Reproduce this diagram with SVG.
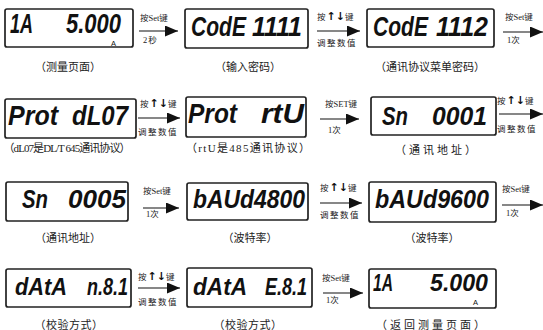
<svg xmlns="http://www.w3.org/2000/svg" width="543" height="330" viewBox="0 0 543 330">
  <style>
    .lcd { fill: #fff; stroke: #222; stroke-width: 1.7; }
    .seg { font-family: "Liberation Sans", Arial, sans-serif; font-weight: bold; font-style: italic; font-size: 20px; fill: #111; }
    .unit { font-family: "Liberation Sans", sans-serif; font-size: 7.5px; fill: #111; }
    .cap { font-family: "Liberation Serif", "Noto Sans CJK SC", serif; font-size: 11px; fill: #222; text-anchor: middle; }
    .lbl { font-family: "Liberation Serif", "Noto Sans CJK SC", serif; font-size: 8.5px; fill: #222; }
    .ar { font-family: "DejaVu Sans", sans-serif; font-weight: bold; font-size: 11px; fill: #111; }
    .wire { stroke: #111; stroke-width: 1.1; fill: none; marker-end: url(#head); }
  </style>
  <defs>
    <marker id="head" markerUnits="userSpaceOnUse" markerWidth="13" markerHeight="11" refX="13" refY="5.5" orient="auto">
      <path d="M0,0 L13,5.5 L0,11 z" fill="#111"/>
    </marker>
  </defs>

  <rect width="543" height="330" fill="#fff"/>

  <!-- Row 1 -->
  <g id="measure-page">
    <rect class="lcd" x="5" y="9" width="128" height="38" rx="2"/>
    <text class="seg" transform="translate(10,32.5) scale(1,1.35)" textLength="23" lengthAdjust="spacingAndGlyphs">1A</text>
    <text class="seg" transform="translate(66,32.5) scale(1,1.35)" textLength="55" lengthAdjust="spacingAndGlyphs">5.000</text>
    <text class="unit" x="111" y="45.5">A</text>
    <text class="cap" x="68" y="71">（测量页面）</text>
  </g>
  <g id="code-entry">
    <rect class="lcd" x="185" y="9" width="123" height="39" rx="2"/>
    <text class="seg" transform="translate(191,36) scale(1,1.35)" textLength="55" lengthAdjust="spacingAndGlyphs">CodE</text>
    <text class="seg" transform="translate(252,36) scale(1,1.35)" textLength="50" lengthAdjust="spacingAndGlyphs">1111</text>
    <text class="cap" x="248" y="71">（输入密码）</text>
  </g>
  <g id="code-protocol">
    <rect class="lcd" x="367" y="9" width="127" height="38" rx="2"/>
    <text class="seg" transform="translate(373,36) scale(1,1.35)" textLength="55" lengthAdjust="spacingAndGlyphs">CodE</text>
    <text class="seg" transform="translate(436,36) scale(1,1.35)" textLength="52" lengthAdjust="spacingAndGlyphs">1112</text>
    <text class="cap" x="430" y="71">（通讯协议菜单密码）</text>
  </g>

  <!-- Row 2 -->
  <g id="protocol-dl07">
    <rect class="lcd" x="5" y="99" width="131" height="39" rx="2"/>
    <text class="seg" transform="translate(8,125) scale(1,1.35)" textLength="50" lengthAdjust="spacingAndGlyphs">Prot</text>
    <text class="seg" transform="translate(72,125) scale(1,1.35)" textLength="56" lengthAdjust="spacingAndGlyphs">dL07</text>
    <text class="cap" x="67" y="152" font-size="10" textLength="127">（dL07是DL/T 645通讯协议）</text>
  </g>
  <g id="protocol-rtu">
    <rect class="lcd" x="186" y="97" width="120" height="40" rx="2"/>
    <text class="seg" transform="translate(188,123) scale(1,1.35)" textLength="49" lengthAdjust="spacingAndGlyphs">Prot</text>
    <text class="seg" transform="translate(261,123) scale(1,1.35)" textLength="43" lengthAdjust="spacingAndGlyphs">rtU</text>
    <text class="cap" x="248" y="152" textLength="124">（rtU是485通讯协议）</text>
  </g>
  <g id="address-0001">
    <rect class="lcd" x="371" y="97" width="125" height="38" rx="2"/>
    <text class="seg" transform="translate(382,125) scale(1,1.25)" textLength="26" lengthAdjust="spacingAndGlyphs">Sn</text>
    <text class="seg" transform="translate(432,125) scale(1,1.25)" textLength="55" lengthAdjust="spacingAndGlyphs">0001</text>
    <text class="cap" x="437" y="154" letter-spacing="3">（通讯地址）</text>
  </g>

  <!-- Row 3 -->
  <g id="address-0005">
    <rect class="lcd" x="6" y="182" width="122" height="39" rx="2"/>
    <text class="seg" transform="translate(22,208) scale(1,1.25)" textLength="26" lengthAdjust="spacingAndGlyphs">Sn</text>
    <text class="seg" transform="translate(68,208) scale(1,1.25)" textLength="58" lengthAdjust="spacingAndGlyphs">0005</text>
    <text class="cap" x="68" y="242" font-size="10">（通讯地址）</text>
  </g>
  <g id="baud-4800">
    <rect class="lcd" x="187" y="183" width="121" height="37" rx="2"/>
    <text class="seg" transform="translate(193,208) scale(1,1.25)" textLength="112" lengthAdjust="spacingAndGlyphs">bAUd4800</text>
    <text class="cap" x="250" y="242" font-size="10.5">（波特率）</text>
  </g>
  <g id="baud-9600">
    <rect class="lcd" x="369" y="182" width="127" height="40" rx="2"/>
    <text class="seg" transform="translate(375,208) scale(1,1.3)" textLength="114" lengthAdjust="spacingAndGlyphs">bAUd9600</text>
    <text class="cap" x="432" y="242">（波特率）</text>
  </g>

  <!-- Row 4 -->
  <g id="parity-n81">
    <rect class="lcd" x="6" y="269" width="125" height="38" rx="2"/>
    <text class="seg" transform="translate(15,295) scale(1,1.2)" textLength="52" lengthAdjust="spacingAndGlyphs">dAtA</text>
    <text class="seg" transform="translate(87,295) scale(1,1.2)" textLength="41" lengthAdjust="spacingAndGlyphs">n.8.1</text>
    <text class="cap" x="69" y="329" letter-spacing="0.5">（校验方式）</text>
  </g>
  <g id="parity-e81">
    <rect class="lcd" x="187" y="268" width="125" height="39" rx="2"/>
    <text class="seg" transform="translate(193,295) scale(1,1.2)" textLength="54" lengthAdjust="spacingAndGlyphs">dAtA</text>
    <text class="seg" transform="translate(265,295) scale(1,1.2)" textLength="42" lengthAdjust="spacingAndGlyphs">E.8.1</text>
    <text class="cap" x="248" y="329" letter-spacing="0.5">（校验方式）</text>
  </g>
  <g id="return-measure">
    <rect class="lcd" x="369" y="269" width="127" height="39" rx="2"/>
    <text class="seg" transform="translate(373,291) scale(1,1.2)" textLength="20" lengthAdjust="spacingAndGlyphs">1A</text>
    <text class="seg" transform="translate(430,291) scale(1,1.2)" textLength="58" lengthAdjust="spacingAndGlyphs">5.000</text>
    <text class="unit" x="473" y="304.5">A</text>
    <text class="cap" x="432" y="329" letter-spacing="3">（返回测量页面）</text>
  </g>

  <!-- Connectors with key hints -->
  <g id="connectors">
    <line class="wire" x1="139" y1="31" x2="178" y2="31"/>
    <text class="lbl" x="140" y="21">按Set键</text>
    <text class="lbl" x="143" y="43" letter-spacing="1">2秒</text>

    <line class="wire" x1="317" y1="31" x2="360" y2="31"/>
    <text class="lbl" x="317" y="20">按<tspan class="ar" dx="1">↑↓</tspan>键</text>
    <text class="lbl" x="317" y="46" letter-spacing="1.5">调整数值</text>

    <line class="wire" x1="503" y1="32" x2="543" y2="32"/>
    <text class="lbl" x="505" y="20">按Set键</text>
    <text class="lbl" x="507" y="43">1次</text>

    <line class="wire" x1="138" y1="118" x2="180" y2="118"/>
    <text class="lbl" x="140" y="107">按<tspan class="ar" dx="1">↑↓</tspan>键</text>
    <text class="lbl" x="138" y="135" letter-spacing="1.5">调整数值</text>

    <line class="wire" x1="320" y1="119" x2="359" y2="119"/>
    <text class="lbl" x="325" y="107">按SET键</text>
    <text class="lbl" x="328" y="133">1次</text>

    <line class="wire" x1="499" y1="114" x2="543" y2="114"/>
    <text class="lbl" x="497" y="104">按<tspan class="ar" dx="1">↑↓</tspan>键</text>
    <text class="lbl" x="497" y="132" letter-spacing="1.5">调整数值</text>

    <line class="wire" x1="143" y1="208" x2="179" y2="208"/>
    <text class="lbl" x="143" y="194">按Set键</text>
    <text class="lbl" x="146" y="217">1次</text>

    <line class="wire" x1="320" y1="203" x2="362" y2="203"/>
    <text class="lbl" x="320" y="191">按<tspan class="ar" dx="1">↑↓</tspan>键</text>
    <text class="lbl" x="320" y="218" letter-spacing="1.5">调整数值</text>

    <line class="wire" x1="502" y1="205" x2="543" y2="205"/>
    <text class="lbl" x="502" y="192">按Set键</text>
    <text class="lbl" x="506" y="216">1次</text>

    <line class="wire" x1="138" y1="288" x2="180" y2="288"/>
    <text class="lbl" x="138" y="280">按<tspan class="ar" dx="1">↑↓</tspan>键</text>
    <text class="lbl" x="138" y="305" letter-spacing="1.5">调整数值</text>

    <line class="wire" x1="323" y1="293" x2="363" y2="293"/>
    <text class="lbl" x="322" y="281">按Set键</text>
    <text class="lbl" x="326" y="303">1次</text>
  </g>
</svg>
